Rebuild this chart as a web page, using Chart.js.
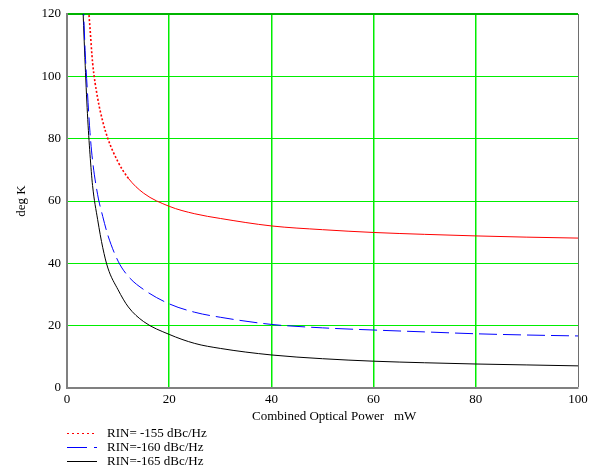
<!DOCTYPE html>
<html>
<head>
<meta charset="utf-8">
<script src="https://cdn.jsdelivr.net/npm/chart.js@4.4.0/dist/chart.umd.min.js"></script>
<style>
  html, body { margin: 0; padding: 0; background: #fff; }
  #wrap { width: 592px; height: 469px; }
</style>
</head>
<body>
<div id="wrap"><canvas id="chart" width="592" height="469"></canvas></div>
<script>
// combined optical power (mW) where the curves were read
const powerMw = [3, 3.5, 4, 4.5, 5, 6, 7, 8, 10, 12, 15, 20, 25, 30, 40, 50, 60, 70, 80, 90, 100];
// noise temperature, deg K
const rin155 = [null, null, 126, 115.5, 104.5, 93, 85.5, 80, 72.5, 67.3, 62.5, 58.3, 55.9, 54.4, 52.0, 50.8, 49.9, 49.3, 48.8, 48.4, 48.1];
const rin160 = [133, 110, 95, 82, 73, 62, 55, 49, 40.7, 35.8, 31.6, 27.0, 24.3, 22.7, 20.4, 19.3, 18.6, 18.0, 17.4, 17.0, 16.7];
const rin165 = [127, 106, 88, 75, 65, 54, 45, 38.5, 31.5, 26, 21.3, 17.2, 14.3, 12.7, 10.6, 9.4, 8.6, 8.1, 7.7, 7.4, 7.1];
const seriesNames = ['RIN= -155 dBc/Hz', 'RIN=-160 dBc/Hz', 'RIN=-165 dBc/Hz'];
const xTicks = [0, 20, 40, 60, 80, 100];
const yTicks = [0, 20, 40, 60, 80, 100, 120];
const xTitle = 'Combined Optical Power   mW';

const serif = '"Liberation Serif", "Times New Roman", serif';
const GREEN = '#00ee00';
const CLEAR = 'rgba(0,0,0,0)';

function toPoints(ys) {
  return powerMw.map((x, i) => ({ x: x, y: ys[i] }));
}

// x title (sits a bit right of centre in the original) and the stacked legend
const bottomText = {
  id: 'bottomText',
  afterDraw(chart) {
    const ctx = chart.ctx;
    ctx.save();
    ctx.font = '13px ' + serif;
    ctx.textBaseline = 'middle';
    ctx.fillStyle = '#000';
    ctx.fillText(xTitle, 252, 417);

    chart.data.datasets.forEach((ds, i) => {
      const y = Math.round(433 + i * 14) + 0.5;
      ctx.beginPath();
      ctx.strokeStyle = ds.borderColor;
      ctx.lineWidth = 1;
      ctx.setLineDash(ds.legendDash || []);
      ctx.moveTo(67, y);
      ctx.lineTo(97, y);
      ctx.stroke();
      ctx.setLineDash([]);
      ctx.fillText(ds.label, 107, y);
    });
    ctx.restore();
  }
};

new Chart(document.getElementById('chart'), {
  type: 'line',
  data: {
    datasets: [
      {
        label: seriesNames[0],
        data: toPoints(rin155),
        borderColor: '#ff0000',
        borderWidth: 1,
        borderDash: [],
        legendDash: [2, 3],
        segment: {
          borderDash: c => (c.p0.parsed.x < 12 ? [2, 2] : undefined),
          borderWidth: c => (c.p0.parsed.x < 12 ? 1.6 : undefined)
        }
      },
      {
        label: seriesNames[1],
        data: toPoints(rin160),
        borderColor: '#0000ff',
        borderWidth: 1,
        borderDash: [18, 6],
        legendDash: [20, 7]
      },
      {
        label: seriesNames[2],
        data: toPoints(rin165),
        borderColor: '#000000',
        borderWidth: 1,
        legendDash: []
      }
    ]
  },
  options: {
    responsive: false,
    animation: false,
    layout: { padding: { left: 0, right: 14, top: 14, bottom: 45 } },
    elements: {
      point: { radius: 0 },
      line: { cubicInterpolationMode: 'monotone' }
    },
    plugins: {
      legend: { display: false },
      tooltip: { enabled: false }
    },
    scales: {
      x: {
        type: 'linear',
        min: 0,
        max: 100,
        afterBuildTicks: s => { s.ticks = xTicks.map(v => ({ value: v })); },
        afterFit: s => { s.height = 36; },
        grid: {
          drawTicks: false,
          color: xTicks.map(v => (v === 100 ? '#6e6e6e' : v === 0 ? CLEAR : GREEN)),
          lineWidth: xTicks.map(v => (v === 100 ? 1 : 1.5))
        },
        border: { color: '#808080', width: 2 },
        ticks: { padding: 4, color: '#000', font: { family: serif, size: 13 } }
      },
      y: {
        min: 0,
        max: 120,
        afterBuildTicks: s => { s.ticks = yTicks.map(v => ({ value: v })); },
        afterFit: s => { s.width = 67; },
        grid: {
          drawTicks: false,
          color: yTicks.map(v => (v === 120 ? '#00b400' : v === 0 ? CLEAR : GREEN)),
          lineWidth: yTicks.map(v => (v === 120 ? 2 : 1))
        },
        border: { color: '#808080', width: 2 },
        ticks: { padding: 6, color: '#000', font: { family: serif, size: 13 } },
        title: {
          display: true,
          text: 'deg K',
          color: '#000',
          font: { family: serif, size: 13 },
          padding: { top: 14, bottom: 0 }
        }
      }
    }
  },
  plugins: [bottomText]
});
</script>
</body>
</html>
